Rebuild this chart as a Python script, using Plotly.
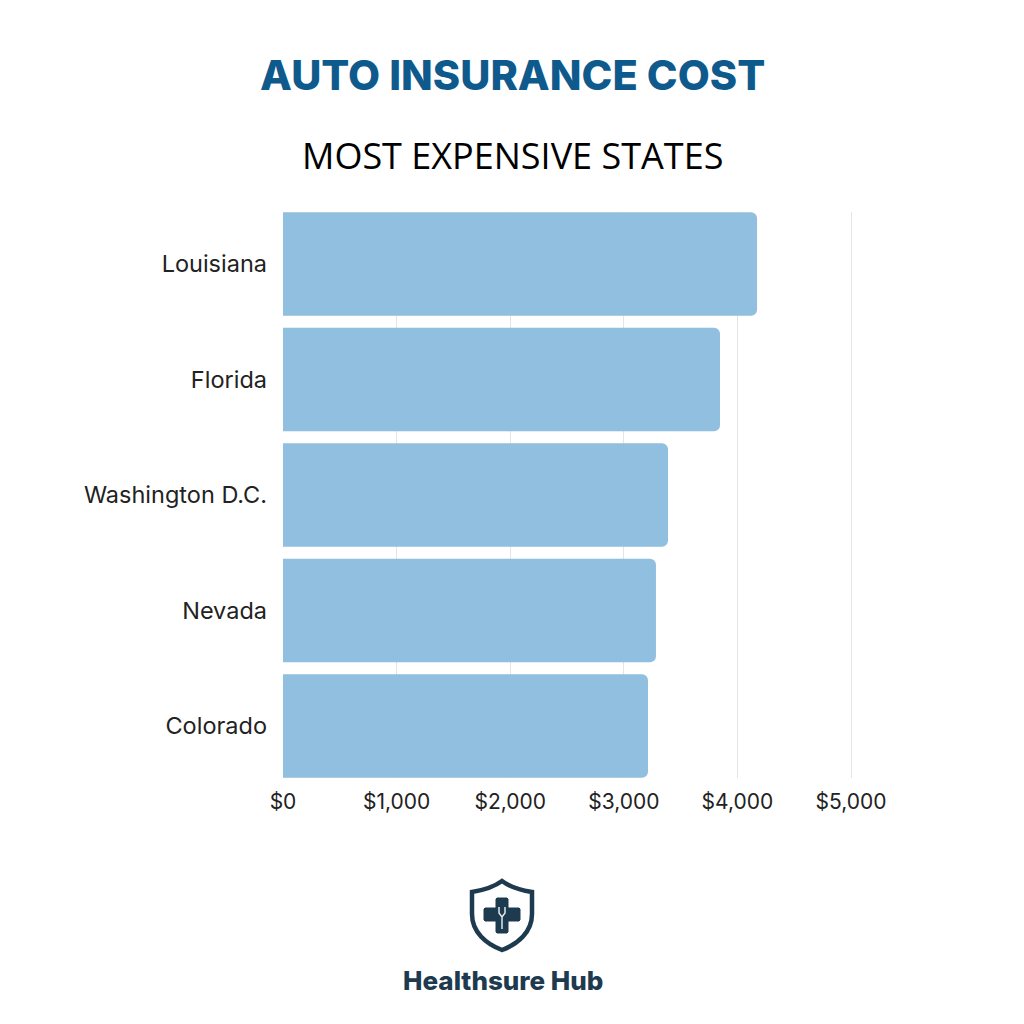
import plotly.graph_objects as go

states = ['Louisiana', 'Florida', 'Washington D.C.', 'Nevada', 'Colorado']
costs = [4173, 3847, 3389, 3283, 3213]
tick_vals = [0, 1000, 2000, 3000, 4000, 5000]
tick_text = ['$0', '$1,000', '$2,000', '$3,000', '$4,000', '$5,000']

# the page body has an 8px margin, so the figure covers 8..1016 of the window
SIZE = 1008
PAD = 8
DARK = '#1d3a4f'


def px(v):
    return (v - PAD) / SIZE


def py(v):
    return 1 - (v - PAD) / SIZE


def path(cmds):
    # cmds use page pixels, shapes want paper coordinates
    out = []
    for c in cmds:
        out.append(c[0] + ' ' + ' '.join(f'{px(x)},{py(y)}' for x, y in c[1:]))
    return ' '.join(out) + ' Z'


shield = path([
    ('M', (502, 881)),
    ('C', (510, 887), (520, 890), (532, 892)),
    ('L', (532, 914)),
    ('C', (532, 932), (518, 944), (502, 950)),
    ('C', (486, 944), (472, 932), (472, 914)),
    ('L', (472, 892)),
    ('C', (484, 890), (494, 887), (502, 881)),
])
cross = path([
    ('M', (497, 898)), ('L', (507, 898)), ('L', (508, 899)), ('L', (508, 908)), ('L', (519, 908)),
    ('L', (520, 909)), ('L', (520, 920)), ('L', (519, 921)), ('L', (508, 921)), ('L', (508, 932)),
    ('L', (507, 933)), ('L', (497, 933)), ('L', (496, 932)), ('L', (496, 921)), ('L', (485, 921)),
    ('L', (484, 920)), ('L', (484, 909)), ('L', (485, 908)), ('L', (496, 908)), ('L', (496, 899)),
])
scope = (f'M {px(499)},{py(907)} L {px(499)},{py(913)} L {px(502)},{py(917)} '
         f'L {px(505)},{py(913)} L {px(505)},{py(907)} '
         f'M {px(502)},{py(917)} L {px(502)},{py(929)}')

fig = go.Figure(go.Bar(
    x=costs,
    y=states,
    orientation='h',
    width=0.897,
    marker=dict(color='#90bfdf', line=dict(width=0), cornerradius=6),
))

fig.update_layout(
    width=SIZE,
    height=SIZE,
    margin=dict(l=0, r=0, t=0, b=0),
    paper_bgcolor='white',
    plot_bgcolor='white',
    showlegend=False,
    font=dict(family='Inter', color='#222222', size=20),
    shapes=[
        dict(type='path', xref='paper', yref='paper', path=shield,
             line=dict(color=DARK, width=4.5), fillcolor='white'),
        dict(type='path', xref='paper', yref='paper', path=cross,
             line=dict(color=DARK, width=1), fillcolor=DARK),
        dict(type='path', xref='paper', yref='paper', path=scope,
             line=dict(color='#dfe8ee', width=1.5)),
    ],
    annotations=[
        dict(text='AUTO INSURANCE COST', xref='paper', yref='paper',
             x=px(512), y=py(75), xanchor='center', yanchor='middle', showarrow=False,
             font=dict(family='Inter', size=41.5, weight=800, color='#0f5a8c')),
        dict(text='MOST EXPENSIVE STATES', xref='paper', yref='paper',
             x=px(512), y=py(155), xanchor='center', yanchor='middle', showarrow=False,
             font=dict(family='Open Sans', size=36, color='#000000')),
        dict(text='Healthsure Hub', xref='paper', yref='paper',
             x=px(503), y=py(980), xanchor='center', yanchor='middle', showarrow=False,
             font=dict(family='Inter', size=26, weight=800, color=DARK)),
    ],
)
fig.update_xaxes(
    # a bit past $5,000: plotly drops a gridline within 1px of the axis end
    domain=[px(283), px(854)],
    range=[0, 5026.4],
    tickvals=tick_vals,
    ticktext=tick_text,
    automargin=False,
    showgrid=True,
    gridcolor='#e4e4e4',
    gridwidth=1,
    zeroline=False,
    showline=False,
    ticks='',
    tickfont=dict(size=21),
    ticklabelstandoff=9,
)
fig.update_yaxes(
    domain=[py(778), py(212)],
    autorange=False,
    range=[4.45, -0.45],
    automargin=False,
    showgrid=False,
    zeroline=False,
    showline=False,
    ticks='',
    tickfont=dict(size=23.5),
    ticklabelstandoff=15,
)

fig.write_html("out.html")
